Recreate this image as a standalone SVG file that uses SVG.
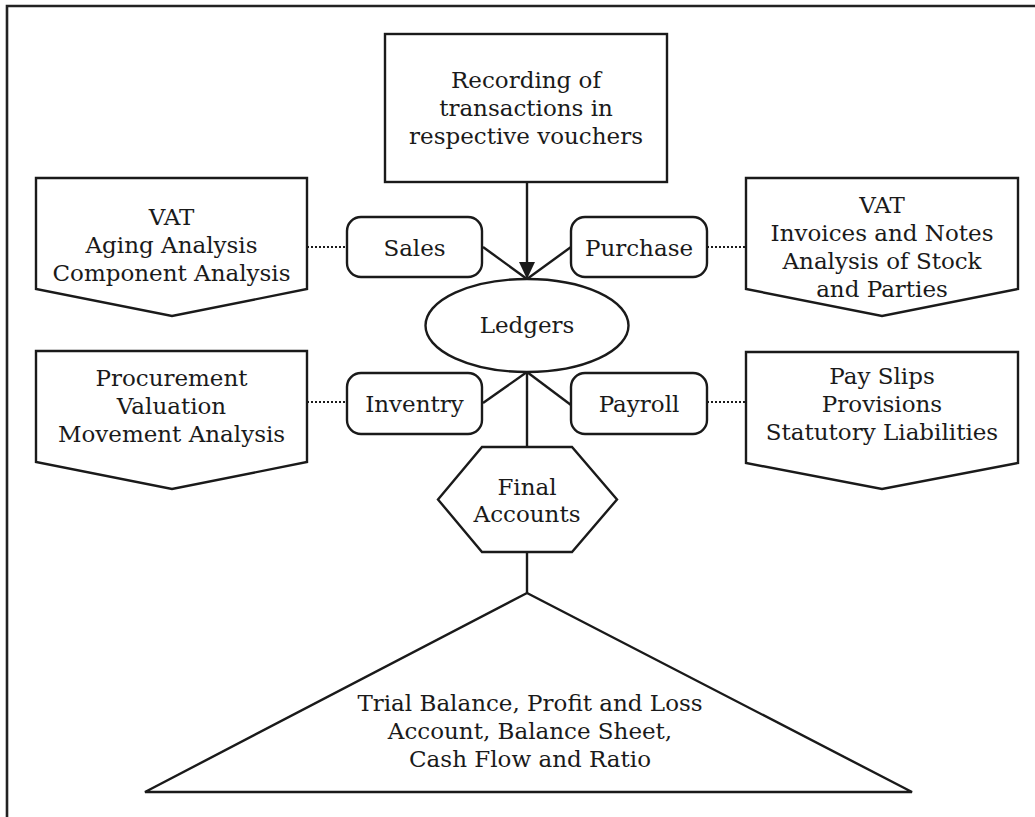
<svg xmlns="http://www.w3.org/2000/svg" width="1035" height="817" viewBox="0 0 1035 817">
<style>
  .shape { fill: #ffffff; stroke: #1a1a1a; stroke-width: 2.4; stroke-linejoin: miter; }
  .line { fill: none; stroke: #1a1a1a; stroke-width: 2.4; }
  .dot { fill: none; stroke: #1a1a1a; stroke-width: 2.2; stroke-dasharray: 2 2; }
  text { font-family: "DejaVu Serif", "Liberation Serif", serif; font-size: 23px; fill: #1a1a1a; text-anchor: middle; }
</style>
<defs>
  <marker id="arrow" markerWidth="16" markerHeight="17" refX="8" refY="17" orient="auto" markerUnits="userSpaceOnUse" viewBox="0 0 16 17">
    <path d="M0,0 L16,0 L8,17 Z" fill="#1a1a1a"/>
  </marker>
</defs>
<rect x="0" y="0" width="1035" height="817" fill="#ffffff"/>
<g id="frame">
  <path d="M7,817 L7,6 L1035,6" fill="none" stroke="#222" stroke-width="2.6"/>
</g>
<g id="connectors">
  <path class="line" d="M527,182 L527,262"/>
  <path d="M519,262 L535,262 L527,279 Z" fill="#1a1a1a"/>
  <line class="line" x1="483" y1="247" x2="527" y2="279"/>
  <line class="line" x1="571" y1="247" x2="527" y2="279"/>
  <line class="line" x1="483" y1="403" x2="527" y2="372"/>
  <line class="line" x1="571" y1="405" x2="527" y2="372"/>
  <line class="line" x1="527" y1="372" x2="527" y2="447"/>
  <line class="line" x1="527" y1="552" x2="527" y2="593"/>
  <line class="dot" x1="307" y1="247" x2="347" y2="247"/>
  <line class="dot" x1="707" y1="247" x2="746" y2="247"/>
  <line class="dot" x1="307" y1="402" x2="347" y2="402"/>
  <line class="dot" x1="707" y1="402" x2="746" y2="402"/>
</g>
<g id="recording">
  <rect class="shape" x="385" y="34" width="282" height="148" stroke-width="2.8"/>
  <text x="526" y="88">Recording of</text>
  <text x="526" y="116">transactions in</text>
  <text x="526" y="144">respective vouchers</text>
</g>
<g id="sales">
  <rect class="shape" x="347" y="217" width="135" height="60" rx="14"/>
  <text x="414.5" y="256">Sales</text>
</g>
<g id="purchase">
  <rect class="shape" x="571" y="217" width="136" height="60" rx="14"/>
  <text x="639" y="256">Purchase</text>
</g>
<g id="inventry">
  <rect class="shape" x="347" y="373" width="135" height="61" rx="14"/>
  <text x="414.5" y="412">Inventry</text>
</g>
<g id="payroll">
  <rect class="shape" x="571" y="373" width="136" height="61" rx="14"/>
  <text x="639" y="412">Payroll</text>
</g>
<g id="ledgers">
  <ellipse class="shape" cx="527" cy="325.5" rx="101.5" ry="46.5"/>
  <text x="527" y="333">Ledgers</text>
</g>
<g id="sales-details">
  <polygon class="shape" points="36,178 307,178 307,289 172,316 36,289"/>
  <text x="171.5" y="225">VAT</text>
  <text x="171.5" y="253">Aging Analysis</text>
  <text x="171.5" y="281">Component Analysis</text>
</g>
<g id="inventry-details">
  <polygon class="shape" points="36,351 307,351 307,462 172,489 36,462"/>
  <text x="171.5" y="386">Procurement</text>
  <text x="171.5" y="414">Valuation</text>
  <text x="171.5" y="442">Movement Analysis</text>
</g>
<g id="purchase-details">
  <polygon class="shape" points="746,178 1018,178 1018,289 882,316 746,289"/>
  <text x="882" y="213">VAT</text>
  <text x="882" y="241">Invoices and Notes</text>
  <text x="882" y="269">Analysis of Stock</text>
  <text x="882" y="297">and Parties</text>
</g>
<g id="payroll-details">
  <polygon class="shape" points="746,352 1018,352 1018,463 882,489 746,463"/>
  <text x="882" y="384">Pay Slips</text>
  <text x="882" y="412">Provisions</text>
  <text x="882" y="440">Statutory Liabilities</text>
</g>
<g id="final-accounts">
  <polygon class="shape" points="482,447 572,447 617,499.5 572,552 482,552 438,499.5"/>
  <text x="527" y="495">Final</text>
  <text x="527" y="522">Accounts</text>
</g>
<g id="statements">
  <polygon class="shape" points="527,593 912,792 145,792"/>
  <text x="530" y="711">Trial Balance, Profit and Loss</text>
  <text x="530" y="739">Account, Balance Sheet,</text>
  <text x="530" y="767">Cash Flow and Ratio</text>
</g>
</svg>
